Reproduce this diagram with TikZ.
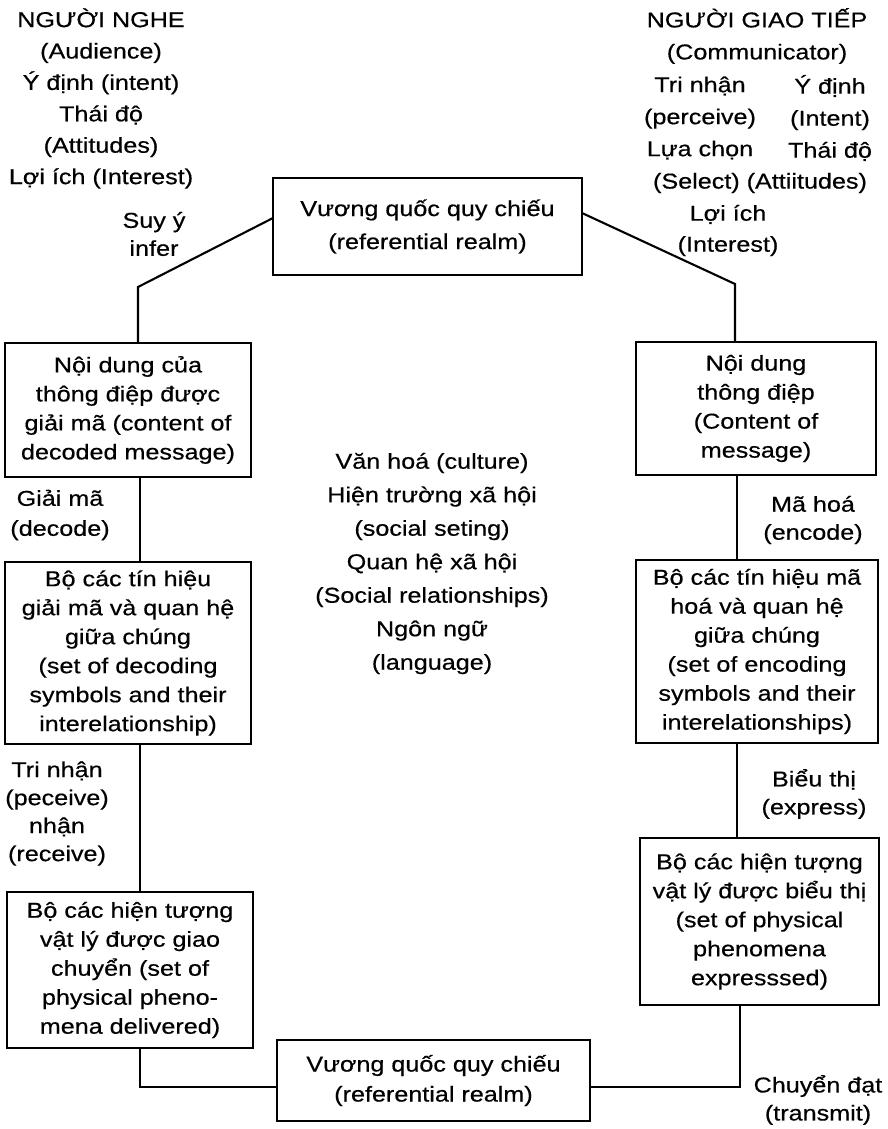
\documentclass[tikz,border=0pt]{standalone}
\usepackage{fontspec}
\setmainfont{Liberation Sans}[FakeStretch=1.17,FakeBold=0.5]
\begin{document}
\begin{tikzpicture}[x=1pt,y=-1pt,
  every node/.style={inner sep=0pt, outer sep=0pt},
  txt/.style={align=center, font=\fontsize{21.5}{29}\selectfont},
  spaced/.style={align=center, font=\fontsize{21.5}{#1}\selectfont},
  stage/.style={draw, line width=2.1pt, txt},
  link/.style={line width=2.1pt}]
\useasboundingbox (0,0) rectangle (888,1129);

% referential realm boxes
\node[stage, spaced=33, minimum width=309pt, minimum height=97pt] (realmTop) at (427.5,226.5)
  {Vương quốc quy chiếu\\(referential realm)};
\node[stage, spaced=30, minimum width=313pt, minimum height=81pt] (realmBot) at (433.5,1080.5)
  {Vương quốc quy chiếu\\(referential realm)};

% audience side
\node[stage, minimum width=246pt, minimum height=134pt] (boxL1) at (128,410)
  {Nội dung của\\thông điệp được\\giải mã (content of\\decoded message)};
\node[stage, minimum width=246pt, minimum height=182pt] (boxL2) at (128,653)
  {Bộ các tín hiệu\\giải mã và quan hệ\\giữa chúng\\(set of decoding\\symbols and their\\interelationship)};
\node[stage, minimum width=246pt, minimum height=156pt] (boxL3) at (130,970)
  {Bộ các hiện tượng\\vật lý được giao\\chuyển (set of\\physical pheno-\\mena delivered)};

% communicator side
\node[stage, minimum width=240pt, minimum height=133pt] (boxR1) at (756,408.5)
  {Nội dung\\thông điệp\\(Content of\\message)};
\node[stage, minimum width=242pt, minimum height=183pt] (boxR2) at (757,651.5)
  {Bộ các tín hiệu mã\\hoá và quan hệ\\giữa chúng\\(set of encoding\\symbols and their\\interelationships)};
\node[stage, minimum width=239pt, minimum height=167pt] (boxR3) at (759.5,921.5)
  {Bộ các hiện tượng\\vật lý được biểu thị\\(set of physical\\phenomena\\expresssed)};

% connector routing points
\coordinate (bendL) at (138,287);
\coordinate (bendR) at (735,284);
\coordinate (colL) at (140,0);
\coordinate (colR) at (737,0);
\coordinate (colRb) at (740,0);
\coordinate (baseRow) at (0,1087);

\draw[link] ([yshift=8.5pt]realmTop.west) -- (bendL) -- (bendL |- boxL1.north);
\draw[link] ([yshift=13.5pt]realmTop.east) -- (bendR) -- (bendR |- boxR1.north);
\draw[link] (boxL1.south -| colL) -- (boxL2.north -| colL);
\draw[link] (boxL2.south -| colL) -- (boxL3.north -| colL);
\draw[link] (boxL3.south -| colL) -- (colL |- baseRow) -- (realmBot.west |- baseRow);
\draw[link] (boxR1.south -| colR) -- (boxR2.north -| colR);
\draw[link] (boxR2.south -| colR) -- (boxR3.north -| colR);
\draw[link] (realmBot.east |- baseRow) -- (colRb |- baseRow) -- (boxR3.south -| colRb);

% headings and attributes
\node[spaced=31.4] (audience) at (101,98.5)
  {NGƯỜI NGHE\\(Audience)\\Ý định (intent)\\Thái độ\\(Attitudes)\\Lợi ích (Interest)};
\node[spaced=32] (commHead) at (757,36) {NGƯỜI GIAO TIẾP\\(Communicator)};
\node[spaced=32] (commLeft) at (700,118) {Tri nhận\\(perceive)\\Lựa chọn};
\node[spaced=32] (commRight) at (830,118) {Ý định\\(Intent)\\Thái độ};
\node[txt] (commSelect) at (760,183) {(Select) (Attiitudes)};
\node[spaced=31] (commInterest) at (728,230.5) {Lợi ích\\(Interest)};

% process labels
\node[spaced=28] (inferLbl) at (154,234) {Suy ý\\infer};
\node[spaced=30] (decodeLbl) at (60,515) {Giải mã\\(decode)};
\node[spaced=28] (perceiveLbl) at (57,813.5) {Tri nhận\\(peceive)\\nhận\\(receive)};
\node[spaced=28] (encodeLbl) at (813,520) {Mã hoá\\(encode)};
\node[spaced=28] (expressLbl) at (814,794) {Biểu thị\\(express)};
\node[spaced=28] (transmitLbl) at (818,1100) {Chuyển đạt\\(transmit)};

% shared context
\node[spaced=33.5] (context) at (432,563.5)
  {Văn hoá (culture)\\Hiện trường xã hội\\(social seting)\\Quan hệ xã hội\\(Social relationships)\\Ngôn ngữ\\(language)};
\end{tikzpicture}
\end{document}
